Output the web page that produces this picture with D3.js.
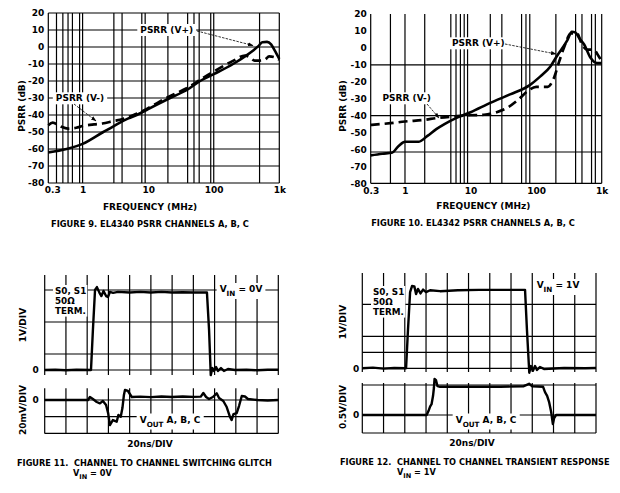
<!DOCTYPE html>
<html><head><meta charset="utf-8">
<script src="https://cdn.jsdelivr.net/npm/d3@7"></script>
<style>
body{margin:0;background:#fff}
svg{display:block}
text{font-family:"DejaVu Sans",Verdana,sans-serif;font-weight:bold;fill:#000}
</style></head><body><svg id="c" width="620" height="493"></svg>
<script>
// ---------- DATA ----------
const psrrTicks = [20,10,0,-10,-20,-30,-40,-50,-60,-70,-80];
const freqTicks = [0.3,1,10,100,1000];
const freqTickLabels = ["0.3","1","10","100","1k"];
const fig9VGrid = [0.4,0.5,0.6,0.7,0.9,1,3,4,8,9,20,40,50,60,90,100,500];
const fig9HGrid = [20,10,0,-10,-20,-30,-40,-50,-60,-70,-80];
const fig10VGrid = [0.6,1,2,5,6,7,8,9,20,30,60,70,80,200,400,500,700,800];
const fig10HGrid = [-10,-40,-61.5,-80];
// PSRR curves [freq MHz, dB]
const fig9Vplus = [[0.3,-62],[0.57,-60],[1,-57],[2.07,-50],[3,-46.5],[5,-42],[6.7,-40],[10,-36.5],[21.6,-30],[40,-25],[62,-20],[100,-16],[197,-10],[300,-5.5],[400,-2],[480,0.5],[550,2.8],[650,3],[750,1.5],[850,-2],[1000,-7]];
const fig9Vminus = [[0.3,-46],[0.35,-44.5],[0.45,-46.5],[0.6,-48],[0.8,-47.5],[1,-46.5],[1.5,-45.5],[2,-45],[3,-43.5],[4,-42.5],[6,-40],[8,-38],[10,-36],[20,-29.5],[40,-24],[70,-18],[100,-14.5],[200,-8],[300,-5],[350,-6],[420,-8],[500,-8],[600,-7.5],[700,-5.5],[850,-6],[1000,-7.5]];
const fig10Vplus = [[0.3,-63.5],[0.45,-62.5],[0.63,-62],[0.8,-58],[1,-55.5],[1.6,-55.5],[2.2,-52],[3,-48],[4,-45],[6,-41.5],[10,-38],[20,-32.5],[40,-27.5],[80,-22],[115,-17],[165,-11],[210,-4.5],[300,4.5],[350,9.5],[400,9],[450,6],[540,2],[680,-6],[850,-9],[1000,-9]];
const fig10Vminus = [[0.3,-45.5],[0.6,-44.5],[1,-43.5],[2,-42.5],[3,-41.5],[5.5,-40.5],[10,-39.8],[16,-39.5],[25,-38],[36,-35.5],[52,-31],[77,-25],[100,-23],[150,-23],[190,-17],[225,-8],[268,0.5],[340,8.5],[420,8.5],[500,2],[600,-1],[750,-1],[900,-5],[1000,-8]];
// Scope traces [time div, value]
const fig11Top = [[0,0],[0.5,0.01],[1,-0.01],[1.5,0.01],[2.18,0],[2.27,1.25],[2.37,2.5],[2.46,2.59],[2.58,2.41],[2.67,2.31],[2.77,2.47],[2.89,2.31],[2.98,2.28],[3.07,2.44],[3.22,2.41],[3.45,2.44],[4,2.42],[4.5,2.44],[5,2.42],[5.5,2.44],[6,2.42],[6.5,2.43],[7,2.42],[7.64,2.42],[7.74,1.25],[7.82,-0.16],[7.9,0.06],[7.97,-0.03],[8.07,0.09],[8.16,-0.03],[8.3,0.06],[8.44,-0.03],[8.63,0.03],[8.96,0],[9.5,0.01],[10,-0.01],[10.5,0.01],[11,0.01]];
const fig11Bottom = [[0,0],[1,0],[2.04,0],[2.13,3.6],[2.27,1.2],[2.45,-2.4],[2.6,-4],[2.74,-1.2],[2.89,-6],[2.99,-16],[3.07,-30],[3.21,-24],[3.39,-26],[3.47,-18],[3.58,-20],[3.66,-9.6],[3.73,6],[3.78,12],[3.92,10.8],[4.1,3.6],[4.5,4],[5,3.4],[5.5,4.2],[6,3.6],[6.5,4.2],[7,3.8],[7.35,4],[7.47,8.4],[7.6,3.6],[7.74,1.2],[7.92,3.6],[8.1,8],[8.21,2.4],[8.41,-1.2],[8.57,-8.4],[8.72,-20],[8.8,-24],[8.89,-16.8],[9.04,-15.6],[9.15,-7.2],[9.28,4.8],[9.43,4.2],[9.57,1.2],[10,0],[10.5,-0.6],[11,0]];
const fig12Top = [[0,0],[0.5,0.02],[1,-0.01],[1.5,0.01],[2.06,0],[2.15,1.2],[2.25,2.38],[2.34,2.57],[2.45,2.56],[2.53,2.32],[2.62,2.48],[2.74,2.34],[2.86,2.46],[3,2.38],[3.19,2.44],[3.66,2.41],[4.5,2.44],[5.5,2.45],[6.5,2.45],[7.66,2.45],[7.75,1.2],[7.86,-0.14],[7.94,0.07],[8.03,-0.08],[8.13,0.07],[8.22,-0.05],[8.36,0.04],[8.55,-0.02],[9.5,0.01],[10.5,0],[11,0.01]];
const fig12Bottom = [[0,0],[1.5,0],[3.03,0],[3.12,0.07],[3.19,0.14],[3.26,0.18],[3.33,0.32],[3.37,0.45],[3.4,0.6],[3.47,0.58],[3.54,0.48],[3.66,0.47],[5,0.47],[6.5,0.47],[7.6,0.48],[7.85,0.52],[8.0,0.48],[8.51,0.47],[8.6,0.38],[8.7,0.32],[8.79,0.22],[8.89,0.05],[8.97,-0.15],[9.03,-0.05],[9.12,0],[10,0],[11,0]];
const scopeDivs = d3.range(0,12);
const fig11TopGrid = [0,0.5,1.5,2.5];
const fig11BotGrid = [0,-20,-40];
const fig12TopGrid = [0,0.5,1,2];
const fig12BotGrid = [0.5,0,-0.3];

// ---------- DRAW ----------
const svg = d3.select("#c");
svg.append("rect").attr("width",620).attr("height",493).attr("fill","#fff");
svg.append("defs").append("marker").attr("id","ah").attr("viewBox","0 0 10 10")
  .attr("refX",9).attr("refY",5).attr("markerWidth",7).attr("markerHeight",7).attr("orient","auto")
  .append("path").attr("d","M0,1.5L10,5L0,8.5z").attr("fill","#000");

function labelBox(g, x, y, parts, size){
  const t = g.append("text").attr("x",x).attr("y",y).attr("text-anchor","middle")
    .attr("dominant-baseline","central").style("font-size",size+"px");
  addParts(t, parts, size);
  const b = t.node().getBBox();
  g.insert("rect", function(){return t.node();}).attr("x",b.x-3).attr("y",b.y-1).attr("width",b.width+6).attr("height",b.height+2).attr("fill","#fff");
  return t;
}
function addParts(t, parts, size){
  parts.forEach(p=>{
    if(typeof p === "string") t.append("tspan").text(p);
    else t.append("tspan").text(p.sub).attr("baseline-shift","sub").style("font-size",(size*0.8)+"px");
  });
}
function arrow(g,x1,y1,x2,y2){
  g.append("line").attr("x1",x1).attr("y1",y1).attr("x2",x2).attr("y2",y2)
   .attr("stroke","#000").attr("stroke-width",0.8).attr("stroke-dasharray","2.5,1.2").attr("marker-end","url(#ah)");
}

function psrrChart(opt){
  const g = svg.append("g");
  const x = d3.scaleLog().domain([0.3,1000]).range(opt.xr);
  const y = d3.scaleLinear().domain([-80,20]).range(opt.yr);
  const gl = g.append("g").attr("stroke","#000").attr("stroke-width",1.2);
  gl.selectAll(".h").data(opt.hgrid).join("line").attr("x1",opt.xr[0]).attr("x2",opt.xr[1]).attr("y1",d=>y(d)).attr("y2",d=>y(d));
  gl.selectAll(".v").data([0.3,...opt.vgrid,1000]).join("line").attr("x1",d=>x(d)).attr("x2",d=>x(d)).attr("y1",opt.yr[0]).attr("y2",opt.yr[1]);
  const ay = g.append("g").attr("transform",`translate(${opt.xr[0]},0)`)
    .call(d3.axisLeft(y).tickValues(psrrTicks).tickSize(0).tickPadding(4).tickFormat(d=>String(d)));
  ay.select(".domain").remove();
  ay.selectAll("text").style("font-size","9px").attr("font-family",null);
  const ax = g.append("g").attr("transform",`translate(0,${opt.yr[0]})`)
    .call(d3.axisBottom(x).tickValues(freqTicks).tickSize(0).tickPadding(4).tickFormat((d,i)=>freqTickLabels[i]));
  ax.select(".domain").remove();
  ax.selectAll("text").style("font-size","9px").attr("font-family",null);
  ax.selectAll(".tick").filter(d=>d===0.3).select("text").attr("dx",opt.firstDx);
  const line = d3.line().x(d=>x(d[0])).y(d=>y(d[1])).curve(d3.curveMonotoneX);
  g.append("path").datum(opt.vminus).attr("d",line).attr("fill","none").attr("stroke","#000").attr("stroke-width",2.7).attr("stroke-dasharray","9,5");
  g.append("path").datum(opt.vplus).attr("d",line).attr("fill","none").attr("stroke","#000").attr("stroke-width",2.6);
  g.append("text").attr("transform",`translate(${opt.ytx},${opt.yty}) rotate(-90)`).attr("text-anchor","middle")
   .attr("dominant-baseline","central").style("font-size","9px").text("PSRR (dB)");
  g.append("text").attr("x",opt.xtx).attr("y",opt.xty).attr("text-anchor","middle").attr("dominant-baseline","central")
   .style("font-size","9px").text("FREQUENCY (MHz)");
  g.append("text").attr("x",opt.capx).attr("y",opt.capy).attr("text-anchor","middle").attr("dominant-baseline","central")
   .style("font-size","8.3px").text(opt.caption);
  const a = g.append("g");
  labelBox(a, opt.vpLab[0], opt.vpLab[1], ["PSRR (V+)"], 9);
  arrow(a, ...opt.vpArr);
  labelBox(a, opt.vmLab[0], opt.vmLab[1], ["PSRR (V-)"], 9);
  arrow(a, ...opt.vmArr);
}

psrrChart({xr:[48.3,279.3], yr:[183,13], hgrid:fig9HGrid, vgrid:fig9VGrid, vplus:fig9Vplus, vminus:fig9Vminus,
  firstDx:4, ytx:21.7, yty:106, xtx:150, xty:207, capx:150, capy:224, caption:"FIGURE 9. EL4340 PSRR CHANNELS A, B, C",
  vpLab:[166.7,30], vpArr:[197,31,253,45.5], vmLab:[80,98.3], vmArr:[74,104,96,121]});
psrrChart({xr:[370.7,601.7], yr:[183.3,14], hgrid:fig10HGrid, vgrid:fig10VGrid, vplus:fig10Vplus, vminus:fig10Vminus,
  firstDx:0, ytx:343.3, yty:106, xtx:483.3, xty:206, capx:473, capy:223, caption:"FIGURE 10. EL4342 PSRR CHANNELS A, B, C",
  vpLab:[478.3,43.3], vpArr:[505,44,556,54], vmLab:[406.7,98.3], vmArr:[427,104,439,118]});

function scope(opt){
  const g = svg.append("g");
  const x = d3.scaleLinear().domain([0,11]).range(opt.xr);
  const yt = d3.scaleLinear().domain(opt.topDom).range(opt.topRange);
  const yb = d3.scaleLinear().domain(opt.botDom).range(opt.botRange);
  const gl = g.append("g").attr("stroke","#000").attr("stroke-width",1.2);
  gl.selectAll(".vt").data(scopeDivs).join("line").attr("x1",d=>x(d)).attr("x2",d=>x(d)).attr("y1",opt.topSpan[0]).attr("y2",opt.topSpan[1]);
  gl.selectAll(".vb").data(scopeDivs).join("line").attr("x1",d=>x(d)).attr("x2",d=>x(d)).attr("y1",opt.botSpan[0]).attr("y2",opt.botSpan[1]);
  gl.selectAll(".ht").data(opt.topGrid).join("line").attr("x1",opt.xr[0]).attr("x2",opt.xr[1]).attr("y1",d=>yt(d)).attr("y2",d=>yt(d));
  gl.selectAll(".hb").data(opt.botGrid).join("line").attr("x1",opt.xr[0]).attr("x2",opt.xr[1]).attr("y1",d=>yb(d)).attr("y2",d=>yb(d));
  const a = g.append("g");
  const s = a.append("g");
  const lines = ["S0, S1","50\u03A9","TERM."];
  lines.forEach((l,i)=>s.append("text").attr("x",opt.sx).attr("y",opt.sy+i*9.8).attr("dominant-baseline","central").style("font-size","8.8px").text(l));
  const bb = s.node().getBBox();
  s.insert("rect",":first-child").attr("x",bb.x-2).attr("y",bb.y-1).attr("width",bb.width+3).attr("height",bb.height+2).attr("fill","#fff");
  labelBox(a, opt.vin[0], opt.vin[1], ["V",{sub:"IN"}," = "+opt.vinText], 9);
  labelBox(a, opt.vout[0], opt.vout[1], ["V",{sub:"OUT"}," A, B, C"], 9);
  const lt = d3.line().x(d=>x(d[0])).y(d=>yt(d[1]));
  const lb = d3.line().x(d=>x(d[0])).y(d=>yb(d[1]));
  g.append("path").datum(opt.top).attr("d",lt).attr("fill","none").attr("stroke","#000").attr("stroke-width",2.4).attr("stroke-linejoin","round");
  g.append("path").datum(opt.bot).attr("d",lb).attr("fill","none").attr("stroke","#000").attr("stroke-width",2.4).attr("stroke-linejoin","round");
  const zl = g.append("g").attr("transform",`translate(${opt.xr[0]},0)`);
  zl.append("g").call(d3.axisLeft(yt).tickValues([0]).tickSize(0).tickPadding(opt.zpad).tickFormat(()=>"0")).call(s=>s.select(".domain").remove());
  zl.append("g").call(d3.axisLeft(yb).tickValues([0]).tickSize(0).tickPadding(opt.zpad).tickFormat(()=>"0")).call(s=>s.select(".domain").remove());
  zl.selectAll("text").style("font-size","9px").attr("font-family",null);
  g.append("text").attr("transform",`translate(${opt.ylx},${opt.topLab}) rotate(-90)`).attr("text-anchor","middle").attr("dominant-baseline","central").style("font-size","9px").text("1V/DIV");
  g.append("text").attr("transform",`translate(${opt.ylx},${opt.botLab[0]}) rotate(-90)`).attr("text-anchor","middle").attr("dominant-baseline","central").style("font-size","9px").text(opt.botLab[1]);
  g.append("text").attr("x",opt.ns[0]).attr("y",opt.ns[1]).attr("text-anchor","middle").attr("dominant-baseline","central").style("font-size","9px").text("20ns/DIV");
  g.append("text").attr("x",opt.cap[0]).attr("y",opt.cap[1]).attr("dominant-baseline","central").style("font-size","8.2px").attr("xml:space","preserve").text(opt.cap[2]);
  const c2 = g.append("text").attr("x",opt.cap2[0]).attr("y",opt.cap2[1]).attr("dominant-baseline","central").style("font-size","8.2px");
  addParts(c2, ["V",{sub:"IN"}," = "+opt.vinText], 8.2);
}

scope({xr:[44.7,278.3], topDom:[0,1], topRange:[370,338], botDom:[0,-20], botRange:[400,416.7],
  topSpan:[275,375], botSpan:[388.3,433.4], topGrid:fig11TopGrid, botGrid:fig11BotGrid, top:fig11Top, bot:fig11Bottom,
  sx:55, sy:291, vin:[241,289], vinText:"0V", vout:[170,419.5], zpad:6, ylx:23.3, topLab:325, botLab:[410,"20mV/DIV"],
  ns:[150,444], cap:[17,462.5,"FIGURE 11.  CHANNEL TO CHANNEL SWITCHING GLITCH"], cap2:[73,472.5]});
scope({xr:[362.3,596], topDom:[0,1], topRange:[368.3,336.3], botDom:[0,1], botRange:[415,355],
  topSpan:[273,372], botSpan:[383,433], topGrid:fig12TopGrid, botGrid:fig12BotGrid, top:fig12Top, bot:fig12Bottom,
  sx:373, sy:292, vin:[558,285], vinText:"1V", vout:[486,419.5], zpad:3, ylx:343.3, topLab:322, botLab:[407,"0.5V/DIV"],
  ns:[472,443], cap:[340,462,"FIGURE 12.  CHANNEL TO CHANNEL TRANSIENT RESPONSE"], cap2:[397,471.5]});
</script></body></html>
